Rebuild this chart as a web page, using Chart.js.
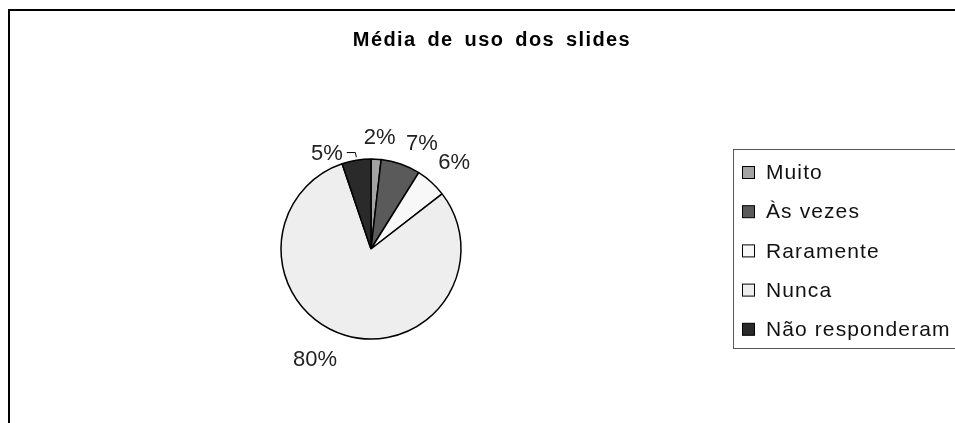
<!DOCTYPE html>
<html lang="pt">
<head>
    <meta charset="UTF-8">
    <title>Média de uso dos slides</title>
    <script src="https://cdn.jsdelivr.net/npm/chart.js"></script>
    <style>
        html, body { margin: 0; padding: 0; background: #fff; }
        canvas { display: block; }
    </style>
</head>
<body>

    <canvas id="graficoSlides" width="955" height="423"></canvas>

    <script>
        const titulo = 'Média de uso dos slides';
        const categorias = ['Muito', 'Às vezes', 'Raramente', 'Nunca', 'Não responderam'];
        const valores = [1.8, 7.1, 5.6, 80.3, 5.2];
        const cores = ['#a3a3a3', '#5a5a5a', '#f8f8f8', '#eeeeee', '#2a2a2a'];

        // pequenos ajustes dos rótulos (como o Excel afasta os que colidem)
        const ajustes = [[2, 7], [12, 6], [4, 1], [-22, -2], [-25, 21]];

        const FONTE = '"Liberation Sans", Arial, sans-serif';

        const decoracao = {
            id: 'decoracao',
            afterDraw(chart) {
                const c = chart.ctx;
                c.save();

                // moldura (só topo e esquerda visíveis)
                c.strokeStyle = '#000';
                c.lineWidth = 2;
                c.beginPath();
                c.moveTo(9, 423);
                c.lineTo(9, 10);
                c.lineTo(955, 10);
                c.stroke();

                // título
                c.fillStyle = '#000';
                c.font = 'bold 20px ' + FONTE;
                c.letterSpacing = '1.4px';
                c.wordSpacing = '4px';
                c.textAlign = 'center';
                c.textBaseline = 'alphabetic';
                c.fillText(titulo, 492, 46);
                c.wordSpacing = '0px';

                // rótulos de porcentagem
                const meta = chart.getDatasetMeta(0);
                c.font = '22px ' + FONTE;
                c.letterSpacing = '0px';
                c.textBaseline = 'middle';
                c.fillStyle = '#222';
                meta.data.forEach((arc, i) => {
                    const meio = (arc.startAngle + arc.endAngle) / 2;
                    const r = arc.outerRadius + 28;
                    const x = arc.x + Math.cos(meio) * r + ajustes[i][0];
                    const y = arc.y + Math.sin(meio) * r + ajustes[i][1];
                    c.fillText(Math.round(valores[i]) + '%', x, y);
                    if (i === 4) {
                        // linha guia do 5%
                        const px = arc.x + Math.cos(meio) * arc.outerRadius;
                        const py = arc.y + Math.sin(meio) * arc.outerRadius;
                        c.strokeStyle = '#000';
                        c.lineWidth = 1;
                        c.beginPath();
                        c.moveTo(x + 20, y - 1);
                        c.lineTo(px - 1, y - 1);
                        c.lineTo(px, py - 3);
                        c.stroke();
                    }
                });

                // legenda
                c.strokeStyle = '#555';
                c.lineWidth = 1;
                c.strokeRect(733.5, 149.5, 240, 199);
                c.font = '21px ' + FONTE;
                c.letterSpacing = '1.1px';
                c.textAlign = 'left';
                categorias.forEach((nome, i) => {
                    const y = 172.5 + i * 39.2;
                    c.fillStyle = cores[i];
                    c.fillRect(742.5, y - 6, 12, 12);
                    c.strokeStyle = '#000';
                    c.strokeRect(742.5, y - 6, 12, 12);
                    c.fillStyle = '#111';
                    c.fillText(nome, 766, y + 1);
                });

                c.restore();
            }
        };

        const ctx = document.getElementById('graficoSlides').getContext('2d');
        new Chart(ctx, {
            type: 'pie',
            data: {
                labels: categorias,
                datasets: [{
                    data: valores,
                    backgroundColor: cores,
                    borderColor: '#000',
                    borderWidth: 1.5,
                    radius: 90
                }]
            },
            options: {
                responsive: false,
                animation: false,
                devicePixelRatio: 1,
                layout: {
                    padding: { left: 271, right: 484, top: 149, bottom: 74 }
                },
                plugins: {
                    legend: { display: false },
                    title: { display: false },
                    tooltip: { enabled: false }
                }
            },
            plugins: [decoracao]
        });
    </script>

</body>
</html>
